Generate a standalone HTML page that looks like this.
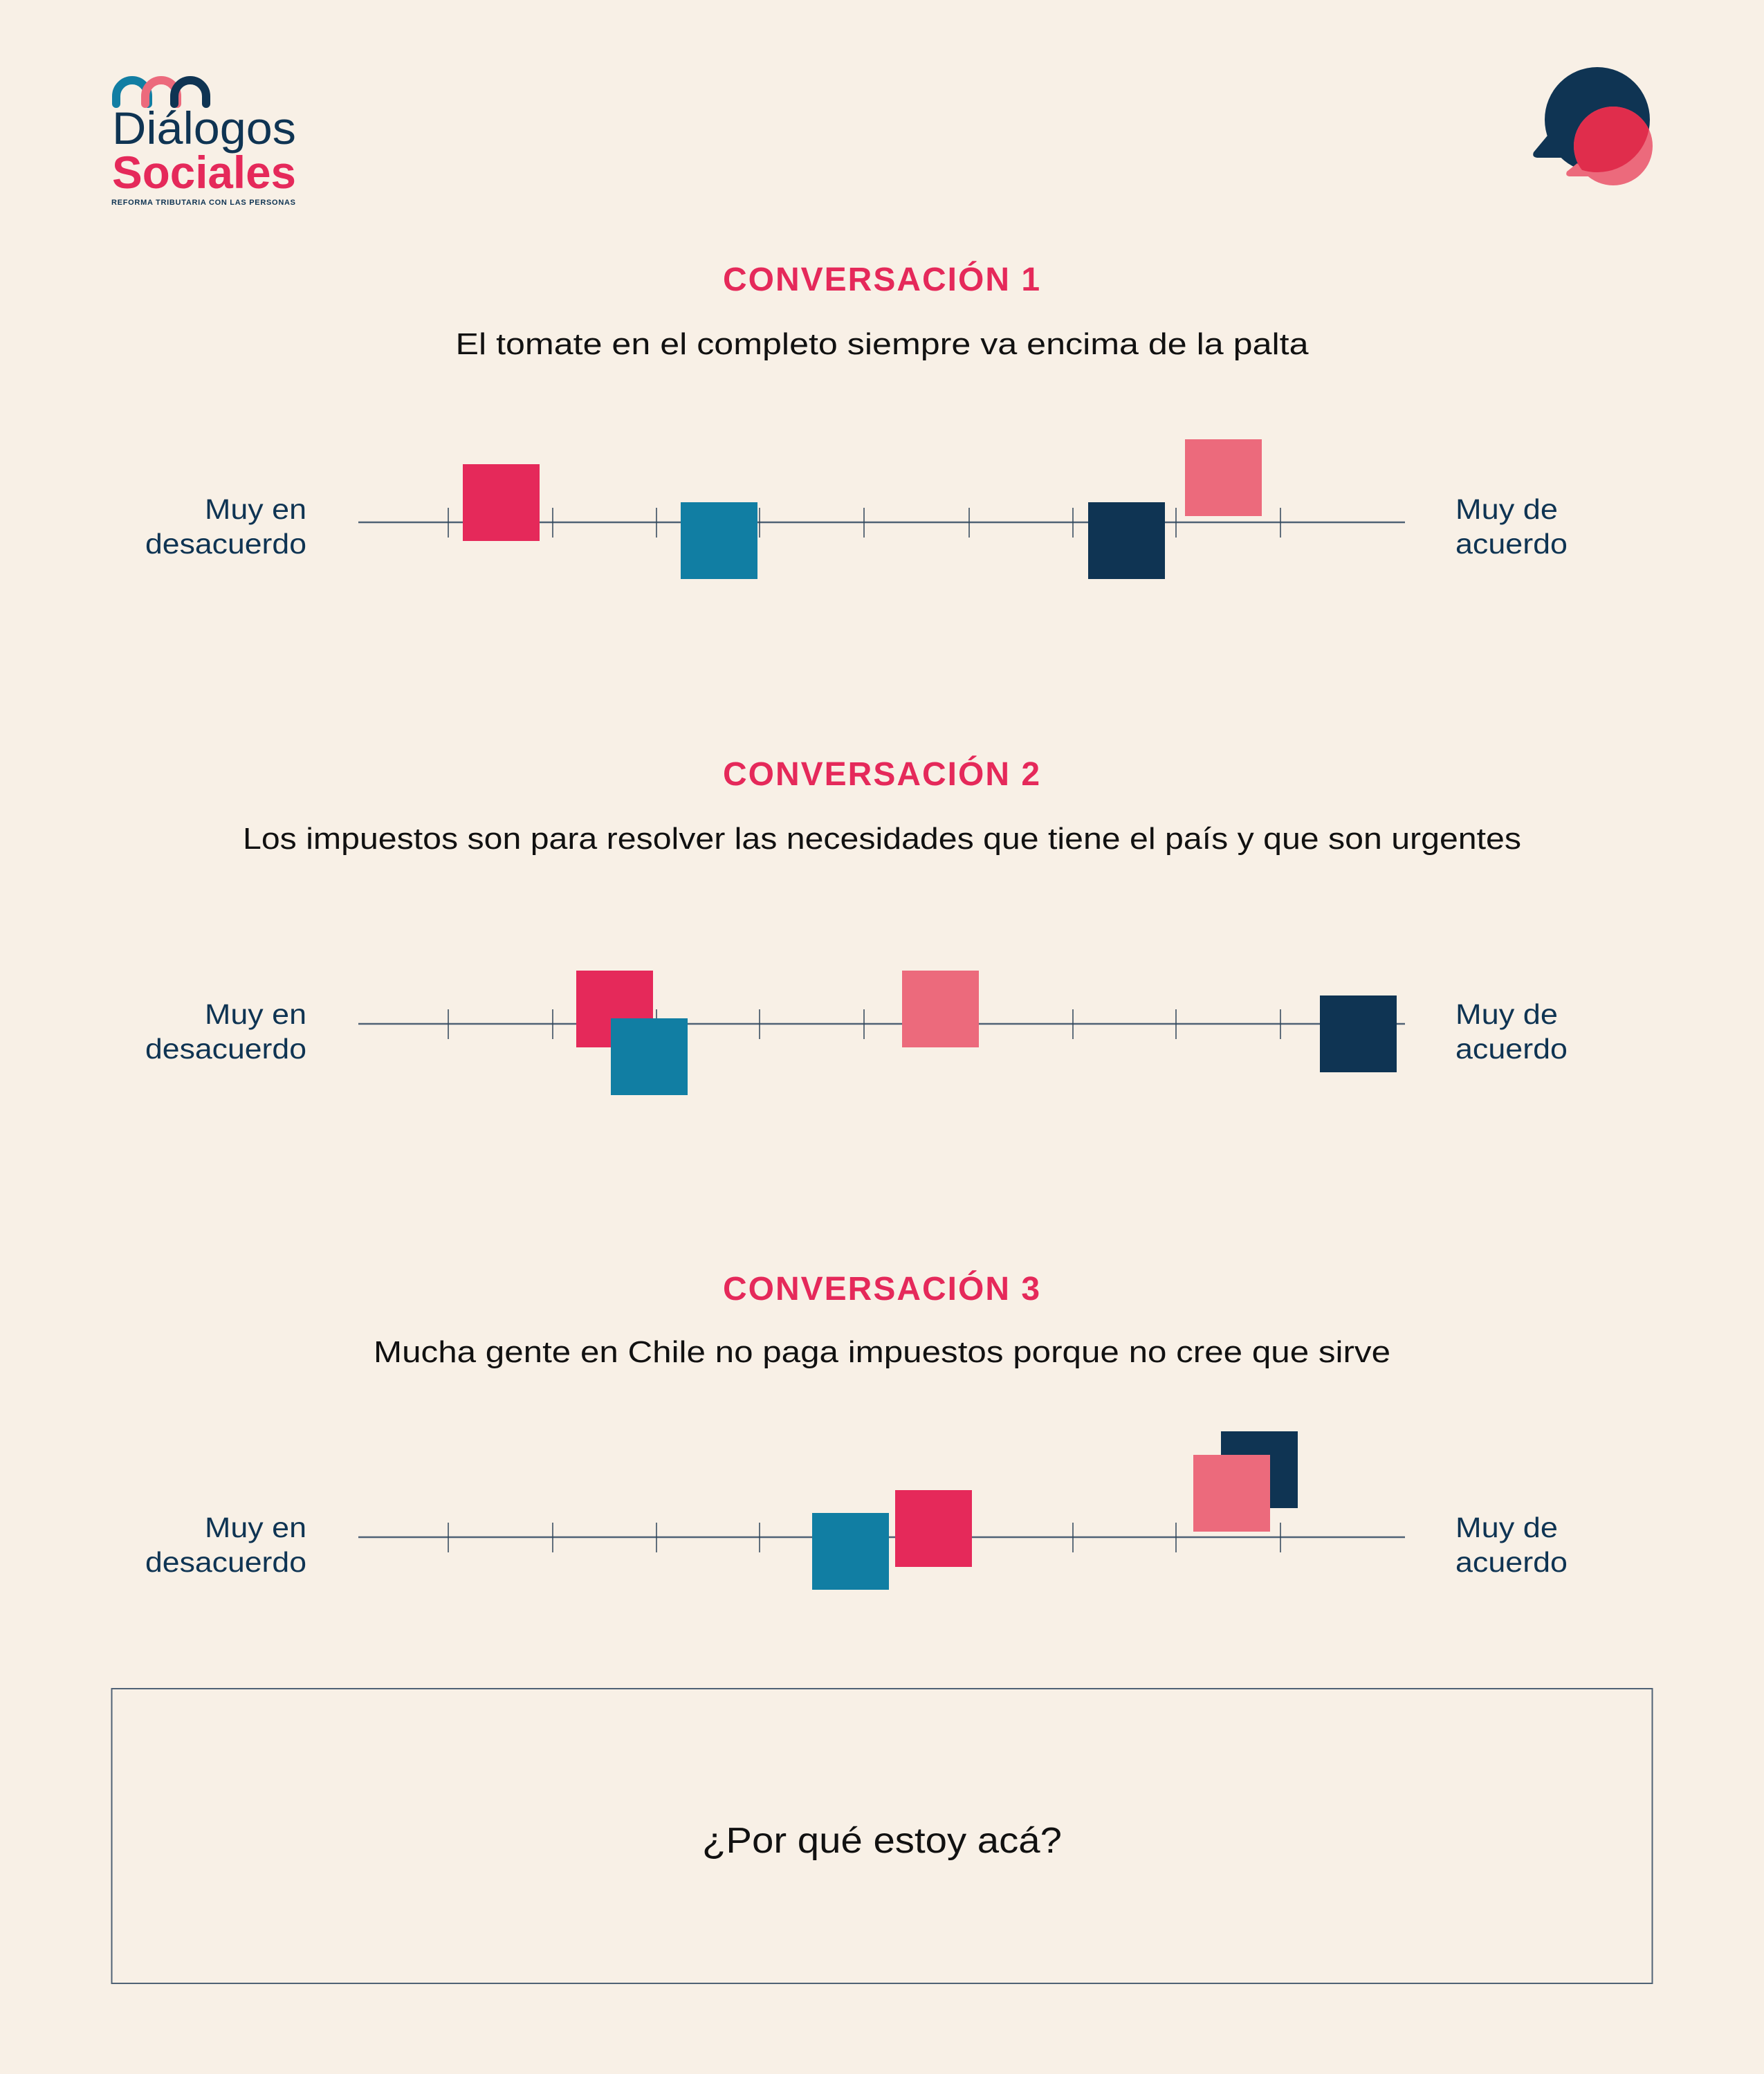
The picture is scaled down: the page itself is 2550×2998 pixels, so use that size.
<!DOCTYPE html>
<html><head><meta charset="utf-8"><style>
html,body{margin:0;padding:0;background:#f8f0e6;}
svg{display:block;}
text{font-family:"Liberation Sans",sans-serif;}
</style></head><body>
<svg width="2550" height="2998" viewBox="0 0 2550 2998" xmlns="http://www.w3.org/2000/svg">
<rect width="2550" height="2998" fill="#f8f0e6"/>
<!-- logo arcs -->
<g fill="none" stroke-width="12" stroke-linecap="round">
<path d="M168 150 V139 A23 23 0 0 1 214 139 V150" stroke="#127ea3"/>
<path d="M210 150 V139 A23 23 0 0 1 256 139 V150" stroke="#ec6a7c"/>
<path d="M252 150 V139 A23 23 0 0 1 298 139 V150" stroke="#0f3453"/>
</g>
<text x="162" y="208" font-size="66" fill="#0f3453" textLength="266" lengthAdjust="spacingAndGlyphs">Diálogos</text>
<text x="162" y="272" font-size="66" font-weight="bold" fill="#e5295a" textLength="266" lengthAdjust="spacingAndGlyphs">Sociales</text>
<text x="161" y="296" font-size="11" font-weight="bold" fill="#0f3453" textLength="266">REFORMA TRIBUTARIA CON LAS PERSONAS</text>
<!-- speech icon -->
<defs><clipPath id="dk"><circle cx="2309" cy="173" r="76"/><path d="M2237 200 L2217 220 Q2214 227 2222 228 L2260 228 Z"/></clipPath></defs>
<circle cx="2309" cy="173" r="76" fill="#0f3453"/>
<path d="M2237 196 L2217 220 Q2214 227 2222 228 L2262 228 Z" fill="#0f3453"/>
<circle cx="2332" cy="211" r="57" fill="#ec6a7c"/>
<path d="M2280 236 L2265 248 Q2262 255 2270 255 L2300 255 Z" fill="#ec6a7c"/>
<g clip-path="url(#dk)"><circle cx="2332" cy="211" r="57" fill="#e02d4c"/></g>

<!-- Conversation 1 -->
<text x="1275" y="420" font-size="48" font-weight="bold" fill="#e5295a" text-anchor="middle" letter-spacing="2">CONVERSACIÓN 1</text>
<text x="1275" y="512" font-size="44" fill="#111" text-anchor="middle" textLength="1233" lengthAdjust="spacingAndGlyphs">El tomate en el completo siempre va encima de la palta</text>
<g fill="#0f3453" font-size="41">
<text x="443" y="750" text-anchor="end" textLength="147" lengthAdjust="spacingAndGlyphs">Muy en</text><text x="443" y="800" text-anchor="end" textLength="233" lengthAdjust="spacingAndGlyphs">desacuerdo</text>
<text x="2104" y="750" textLength="148" lengthAdjust="spacingAndGlyphs">Muy de</text><text x="2104" y="800" textLength="162" lengthAdjust="spacingAndGlyphs">acuerdo</text>
<text x="443" y="1480" text-anchor="end" textLength="147" lengthAdjust="spacingAndGlyphs">Muy en</text><text x="443" y="1530" text-anchor="end" textLength="233" lengthAdjust="spacingAndGlyphs">desacuerdo</text>
<text x="2104" y="1480" textLength="148" lengthAdjust="spacingAndGlyphs">Muy de</text><text x="2104" y="1530" textLength="162" lengthAdjust="spacingAndGlyphs">acuerdo</text>
<text x="443" y="2222" text-anchor="end" textLength="147" lengthAdjust="spacingAndGlyphs">Muy en</text><text x="443" y="2272" text-anchor="end" textLength="233" lengthAdjust="spacingAndGlyphs">desacuerdo</text>
<text x="2104" y="2222" textLength="148" lengthAdjust="spacingAndGlyphs">Muy de</text><text x="2104" y="2272" textLength="162" lengthAdjust="spacingAndGlyphs">acuerdo</text>
</g>
<g stroke="#4f6275">
<line x1="518" y1="755" x2="2031" y2="755" stroke-width="2.5"/>
<line x1="518" y1="1480" x2="2031" y2="1480" stroke-width="2.5"/>
<line x1="518" y1="2222" x2="2031" y2="2222" stroke-width="2.5"/>
</g>
<g stroke="#2f4458" stroke-width="1.5">
<path d="M648 734v43M799 734v43M949 734v43M1098 734v43M1249 734v43M1401 734v43M1551 734v43M1700 734v43M1851 734v43"/>
<path d="M648 1459v43M799 1459v43M949 1459v43M1098 1459v43M1249 1459v43M1401 1459v43M1551 1459v43M1700 1459v43M1851 1459v43"/>
<path d="M648 2201v43M799 2201v43M949 2201v43M1098 2201v43M1249 2201v43M1401 2201v43M1551 2201v43M1700 2201v43M1851 2201v43"/>
</g>
<rect x="669" y="671" width="111" height="111" fill="#e5295a"/>
<rect x="984" y="726" width="111" height="111" fill="#117ea3"/>
<rect x="1573" y="726" width="111" height="111" fill="#0f3453"/>
<rect x="1713" y="635" width="111" height="111" fill="#ec6a7c"/>

<!-- Conversation 2 -->
<text x="1275" y="1135" font-size="48" font-weight="bold" fill="#e5295a" text-anchor="middle" letter-spacing="2">CONVERSACIÓN 2</text>
<text x="1275" y="1227" font-size="44" fill="#111" text-anchor="middle" textLength="1848" lengthAdjust="spacingAndGlyphs">Los impuestos son para resolver las necesidades que tiene el país y que son urgentes</text>
<rect x="833" y="1403" width="111" height="111" fill="#e5295a"/>
<rect x="883" y="1472" width="111" height="111" fill="#117ea3"/>
<rect x="1304" y="1403" width="111" height="111" fill="#ec6a7c"/>
<rect x="1908" y="1439" width="111" height="111" fill="#0f3453"/>

<!-- Conversation 3 -->
<text x="1275" y="1879" font-size="48" font-weight="bold" fill="#e5295a" text-anchor="middle" letter-spacing="2">CONVERSACIÓN 3</text>
<text x="1275" y="1969" font-size="44" fill="#111" text-anchor="middle" textLength="1470" lengthAdjust="spacingAndGlyphs">Mucha gente en Chile no paga impuestos porque no cree que sirve</text>
<rect x="1174" y="2187" width="111" height="111" fill="#117ea3"/>
<rect x="1294" y="2154" width="111" height="111" fill="#e5295a"/>
<rect x="1765" y="2069" width="111" height="111" fill="#0f3453"/>
<rect x="1725" y="2103" width="111" height="111" fill="#ec6a7c"/>

<!-- box -->
<rect x="161.5" y="2441" width="2227" height="426" fill="none" stroke="#4f6275" stroke-width="2"/>
<text x="1275" y="2678" font-size="52" fill="#111" text-anchor="middle" textLength="520" lengthAdjust="spacingAndGlyphs">¿Por qué estoy acá?</text>
</svg>
</body></html>
